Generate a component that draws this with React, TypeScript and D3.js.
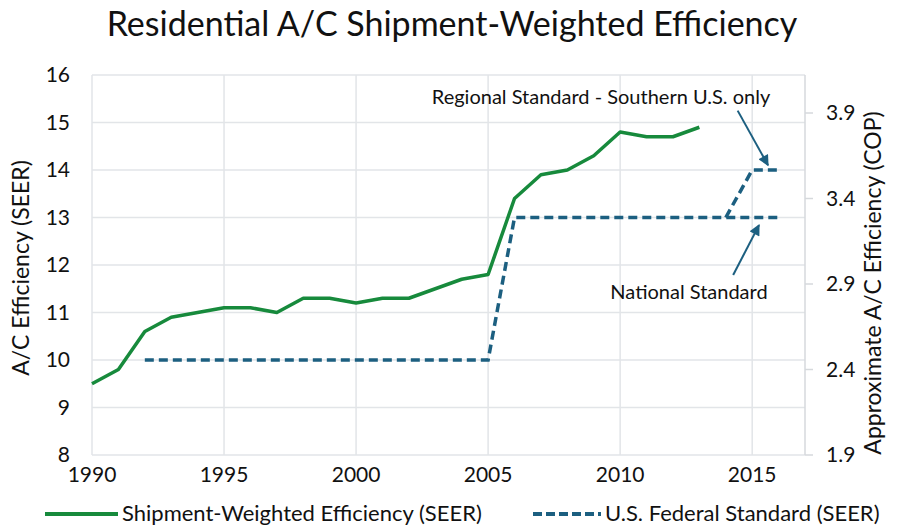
import React from 'react';
import * as d3 from 'd3';

// shipment-weighted efficiency (SEER) by year
const shipYears = [1990, 1991, 1992, 1993, 1994, 1995, 1996, 1997, 1998, 1999, 2000, 2001, 2002, 2003, 2004, 2005, 2006, 2007, 2008, 2009, 2010, 2011, 2012, 2013];
const shipSeer = [9.5, 9.8, 10.6, 10.9, 11.0, 11.1, 11.1, 11.0, 11.3, 11.3, 11.2, 11.3, 11.3, 11.5, 11.7, 11.8, 13.4, 13.9, 14.0, 14.3, 14.8, 14.7, 14.7, 14.9];

// federal (national) standard
const fedYears = [1992, 2005, 2006, 2016];
const fedSeer = [10, 10, 13, 13];

// regional standard (southern US)
const regYears = [2014, 2015, 2016];
const regSeer = [13, 14, 14];

const seerTicks = [8, 9, 10, 11, 12, 13, 14, 15, 16];
const copTicks = [1.9, 2.4, 2.9, 3.4, 3.9];
const yearTicks = [1990, 1995, 2000, 2005, 2010, 2015];

const GREEN = '#178a3c';
const BLUE = '#1c5f80';
const GRID = '#e2e5e8';
const FONT = 'Lato, "Noto Sans", sans-serif';

const App = () => {
  const width = 898;
  const height = 527;
  const margin = { top: 75, right: 93, bottom: 72, left: 92 };

  const x = d3.scaleLinear().domain([1990, 2017]).range([margin.left, width - margin.right]);
  const y = d3.scaleLinear().domain([8, 16]).range([height - margin.bottom, margin.top]);
  // right axis: COP, same pixel span as SEER 8..16
  const yCop = d3.scaleLinear().domain([1.9, 1.9 + 8 / 3.6]).range([height - margin.bottom, margin.top]);

  const line = d3
    .line<[number, number]>()
    .x((d) => x(d[0]))
    .y((d) => y(d[1]));

  const ship = shipYears.map((yr, i) => [yr, shipSeer[i]] as [number, number]);
  const fed = fedYears.map((yr, i) => [yr, fedSeer[i]] as [number, number]);
  const reg = regYears.map((yr, i) => [yr, regSeer[i]] as [number, number]);

  const x0 = x(1990);
  const x1 = x(2017);
  const yb = y(8);
  const yt = y(16);

  return (
    <svg width={width} height={height} style={{ position: 'absolute', left: 0, top: 0, fontFamily: FONT }}>
      <defs>
        <marker id="arr" viewBox="0 0 10 10" refX="9" refY="5" markerWidth="6.5" markerHeight="5.5" orient="auto">
          <path d="M0,0 L10,5 L0,10 z" fill={BLUE} />
        </marker>
      </defs>
      <rect width={width} height={height} fill="#fff" />
      <text x={452} y={36} textAnchor="middle" fontSize={34} fill="#111">
        Residential A/C Shipment-Weighted Efficiency
      </text>

      {/* gridlines */}
      {seerTicks.map((t) => (
        <line key={'h' + t} x1={x0} x2={x1} y1={y(t)} y2={y(t)} stroke={GRID} strokeWidth={1.5} />
      ))}
      {yearTicks.map((t) => (
        <line key={'v' + t} x1={x(t)} x2={x(t)} y1={yt} y2={yb} stroke={GRID} strokeWidth={1.5} />
      ))}
      <line x1={x1} x2={x1} y1={yt} y2={yb} stroke="#d6d9dc" strokeWidth={1.5} />
      {copTicks.map((t) => (
        <line key={'c' + t} x1={x1} x2={x1 + 8} y1={yCop(t)} y2={yCop(t)} stroke="#d6d9dc" strokeWidth={1.5} />
      ))}

      {/* tick labels */}
      {seerTicks.map((t) => (
        <text key={'ly' + t} x={70} y={y(t) + 7} textAnchor="end" fontSize={21} fill="#111">
          {t}
        </text>
      ))}
      {copTicks.map((t) => (
        <text key={'ry' + t} x={826} y={yCop(t) + 7} fontSize={21} fill="#111">
          {t.toFixed(1)}
        </text>
      ))}
      {yearTicks.map((t) => (
        <text key={'xt' + t} x={x(t)} y={482} textAnchor="middle" fontSize={21} fill="#111">
          {t}
        </text>
      ))}

      <text transform="translate(29,268) rotate(-90)" textAnchor="middle" fontSize={23} fill="#111">
        A/C Efficiency (SEER)
      </text>
      <text transform="translate(881,283) rotate(-90)" textAnchor="middle" fontSize={23} fill="#111">
        Approximate A/C Efficiency (COP)
      </text>

      {/* series */}
      <path d={line(fed) ?? ''} fill="none" stroke={BLUE} strokeWidth={3.5} strokeDasharray="9 5" />
      <path d={line(reg) ?? ''} fill="none" stroke={BLUE} strokeWidth={3.5} strokeDasharray="9 5" />
      <path d={line(ship) ?? ''} fill="none" stroke={GREEN} strokeWidth={3.5} strokeLinejoin="round" />

      {/* annotations */}
      <text x={601} y={104} textAnchor="middle" fontSize={20} fill="#111">
        Regional Standard - Southern U.S. only
      </text>
      <line x1={x(2014.45)} y1={y(15.25)} x2={x(2015.6)} y2={y(14.1)} stroke={BLUE} strokeWidth={2} markerEnd="url(#arr)" />
      <text x={689} y={299} textAnchor="middle" fontSize={20} fill="#111">
        National Standard
      </text>
      <line x1={x(2014.28)} y1={y(11.79)} x2={x(2015.26)} y2={y(12.84)} stroke={BLUE} strokeWidth={2} markerEnd="url(#arr)" />

      {/* legend */}
      <line x1={45} x2={118} y1={514} y2={514} stroke={GREEN} strokeWidth={4} />
      <text x={122} y={521} fontSize={22} fill="#111">
        Shipment-Weighted Efficiency (SEER)
      </text>
      <line x1={533} x2={601} y1={514} y2={514} stroke={BLUE} strokeWidth={4} strokeDasharray="9 4" />
      <text x={605} y={521} fontSize={22} fill="#111">
        U.S. Federal Standard (SEER)
      </text>
    </svg>
  );
};

export default App;
